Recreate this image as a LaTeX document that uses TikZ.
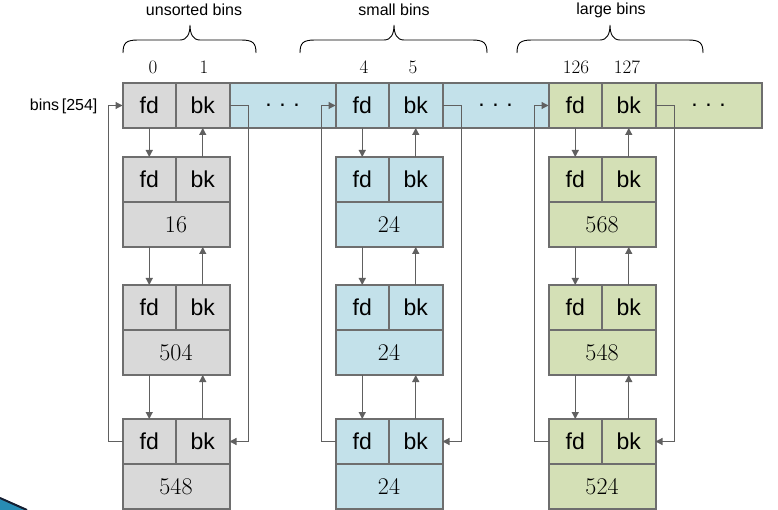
\documentclass[tikz,border=0pt]{standalone}
\usepackage{fontspec}
\newfontfamily\arialf{Liberation Sans}
\usetikzlibrary{arrows.meta}
\definecolor{gfill}{HTML}{D9D9D9}
\definecolor{bfill}{HTML}{C3E1EA}
\definecolor{lfill}{HTML}{D4E0B6}
\definecolor{bordc}{HTML}{6E6E6E}
\definecolor{arrc}{HTML}{606060}
\tikzset{
  cell/.style={draw=bordc, line width=2pt, minimum width=53.5pt, minimum height=45pt,
    inner sep=0pt, outer sep=0pt, anchor=north west, font=\arialf\fontsize{23}{26}\selectfont},
  wide/.style={cell, minimum width=107pt},
  numcell/.style={wide, font=\fontsize{24}{28}\selectfont},
  dotcell/.style={cell, minimum width=106pt},
  arr/.style={draw=arrc, line width=1.2pt, -{Triangle[length=7pt,width=7pt]}},
  brace/.style={draw=black, line width=0.9pt},
  idx/.style={font=\fontsize{19}{21}\selectfont},
  lbl/.style={font=\arialf\fontsize{16}{18}\selectfont}
}
\begin{document}
\begin{tikzpicture}[x=1pt,y=-1pt]
\useasboundingbox (0,0) rectangle (778,510);
% braces
\foreach \a/\m/\b/\n in {123/190/256/ub, 300/394/487/sb, 517/610/703/lb}{
  \draw[brace] (\a,53) .. controls (\a,43) and (\a+3,40) .. (\a+15,40) -- (\m-10,40)
    .. controls (\m-3,40) and (\m,34) .. (\m,25)
    .. controls (\m,34) and (\m+3,40) .. (\m+10,40) -- (\b-15,40)
    .. controls (\b-3,40) and (\b,43) .. (\b,53);
}
\node[lbl] (tu) at (194,10) {unsorted bins};
\node[lbl] (ts) at (394,10) {small bins};
\node[lbl] (tl) at (611,10) {large bins};
% indices
\node[idx] (i0) at (153,67) {0};
\node[idx] (i1) at (204,67) {1};
\node[idx] (i4) at (364,67) {4};
\node[idx] (i5) at (413,67) {5};
\node[idx] (i126) at (576,67) {126};
\node[idx] (i127) at (627,67) {127};
\node[lbl, anchor=east] (binsl) at (101,106) {bins\,[254]};
% top row
\node[cell, fill=gfill] (u-fd) at (122.5,83) {fd};
\node[cell, fill=gfill] (u-bk) at (176,83) {bk};
\node[dotcell, fill=bfill] (u-dots) at (229.5,83) {.\,\,.\,\,.};
\node[cell, fill=bfill] (s-fd) at (335.5,83) {fd};
\node[cell, fill=bfill] (s-bk) at (389,83) {bk};
\node[dotcell, fill=bfill] (s-dots) at (442.5,83) {.\,\,.\,\,.};
\node[cell, fill=lfill] (l-fd) at (548.5,83) {fd};
\node[cell, fill=lfill] (l-bk) at (602,83) {bk};
\node[dotcell, fill=lfill] (l-dots) at (655.5,83) {.\,\,.\,\,.};
% chunks
\foreach \c/\x/\col/\na/\nb/\nc in {u/122.5/gfill/16/504/548, s/335.5/bfill/24/24/24, l/548.5/lfill/568/548/524}{
  \foreach \i/\t/\v in {1/157/\na, 2/285/\nb, 3/419/\nc}{
    \node[cell, fill=\col] (\c-\i-fd) at (\x,\t) {fd};
    \node[cell, fill=\col] (\c-\i-bk) at (\x+53.5,\t) {bk};
    \node[numcell, fill=\col] (\c-\i-n) at (\x,\t+45) {\v};
  }
  % vertical links
  \draw[arr] (\c-fd.south) -- (\c-1-fd.north);
  \draw[arr] (\c-1-bk.north) -- (\c-bk.south);
  \draw[arr] (\c-1-fd.center |- \c-1-n.south) -- (\c-2-fd.north);
  \draw[arr] (\c-2-bk.north) -- (\c-1-bk.center |- \c-1-n.south);
  \draw[arr] (\c-2-fd.center |- \c-2-n.south) -- (\c-3-fd.north);
  \draw[arr] (\c-3-bk.north) -- (\c-2-bk.center |- \c-2-n.south);
  % loops
  \draw[arr] (\c-3-fd.west) -- ++(-14,0) |- (\c-fd.west);
  \draw[arr] (\c-bk.east) -- ++(19,0) |- (\c-3-bk.east);
}
% corner fragment
\fill[fill={rgb,255:red,40;green,140;blue,180}] (0,499) -- (26,510) -- (0,510) -- cycle;
\draw[line width=2pt, draw={rgb,255:red,20;green,30;blue,50}] (0,498) -- (27,510);
\end{tikzpicture}
\end{document}
